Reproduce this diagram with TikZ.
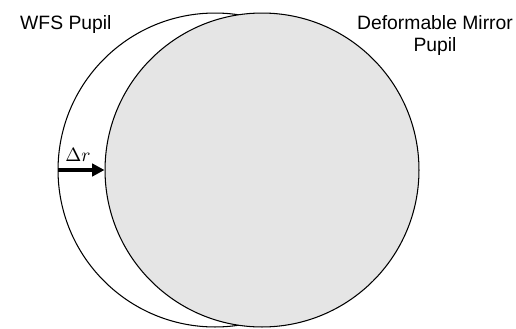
\documentclass[tikz,border=0pt]{standalone}
\usepackage{fontspec}
\setmainfont{Liberation Sans}
\usetikzlibrary{arrows.meta}

\begin{document}
\begin{tikzpicture}[x=0.02cm,y=-0.02cm,font=\fontsize{11}{12.5}\selectfont,
  pupil/.style={circle,draw,line width=0.6pt,inner sep=0pt,minimum size=6.28cm},
  shiftarrow/.style={line width=1.8pt,-{Triangle[length=7pt,width=7pt]}}]

\useasboundingbox (0,0) rectangle (516,328);

\node[pupil, fill=white] (wfs) at (215,170) {};
\node[pupil, fill=black!10] (dm) at (262,170) {};

\draw[shiftarrow] (wfs.west) -- (dm.west);
\node (dr) at (78,155) {$\Delta r$};

\node[anchor=base west] (wfslabel) at (14,30) {WFS Pupil};
\node[align=center,anchor=north] (dmlabel) at (435,9) {Deformable Mirror\\Pupil};

\end{tikzpicture}
\end{document}
